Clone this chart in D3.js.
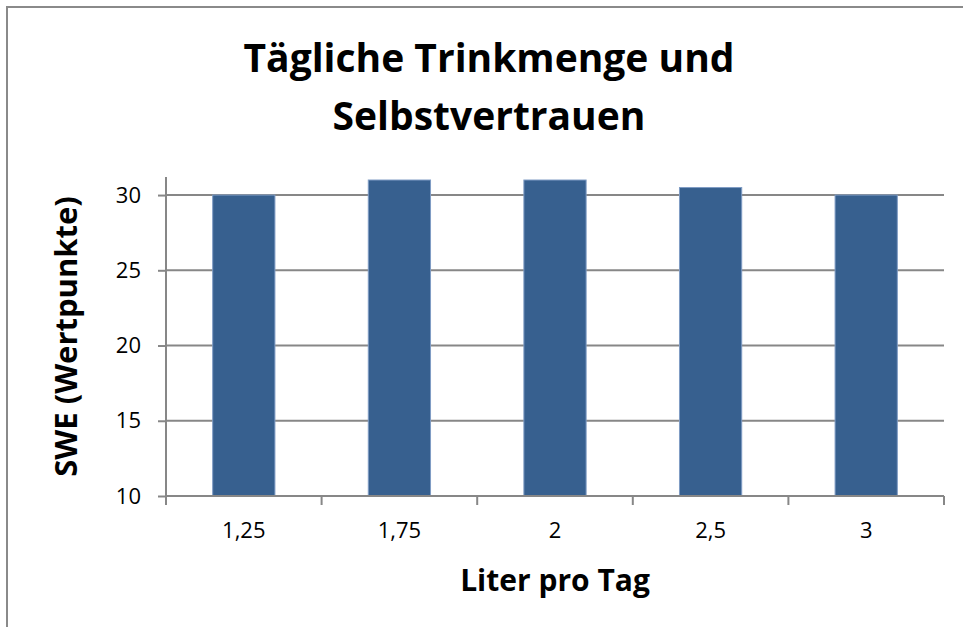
<meta charset="utf-8">
<script src="https://d3js.org/d3.v7.js"></script>
<style>
body { margin: 0; background-color: white; }
svg { font-family: 'Open Sans'; display: block; }
</style>
<html>
    <body>
        <div id="chart"></div>
        <script>
            // data
            var categories = ["1,25", "1,75", "2", "2,5", "3"];
            var swe = [30, 31, 31, 30.5, 30];
            var yTicks = [10, 15, 20, 25, 30];
            var titleLines = ["Tägliche Trinkmenge und", "Selbstvertrauen"];
            var xTitle = "Liter pro Tag";
            var yTitle = "SWE (Wertpunkte)";

            var margin = {top: 177, right: 19, bottom: 131, left: 166},
                width = 963 - margin.left - margin.right,
                height = 627 - margin.top - margin.bottom;

            var root = d3.select("#chart")
                .append("svg")
                    .attr("width", 963)
                    .attr("height", 627);

            // outer chart frame (cut off at right and bottom)
            root.append("rect")
                .attr("x", 7).attr("y", 7)
                .attr("width", 1000).attr("height", 700)
                .attr("fill", "white")
                .attr("stroke", "#8a8a8a")
                .attr("stroke-width", 2);

            var svg = root.append("g")
                .attr("transform", "translate(" + margin.left + "," + margin.top + ")");

            var x = d3.scaleBand()
                .domain(categories)
                .range([0, width])
                .paddingInner(0.6)
                .paddingOuter(0.3);

            var y = d3.scaleLinear()
                .domain([10, 31.2])
                .range([height, 0]);

            // gridlines
            svg.append("g")
                .selectAll("line")
                .data(yTicks.slice(1))
                .enter()
                .append("line")
                .attr("x1", 0)
                .attr("x2", width)
                .attr("y1", d => y(d))
                .attr("y2", d => y(d))
                .attr("stroke", "#878787")
                .attr("stroke-width", 2);

            // bars
            svg.append("g")
                .selectAll("rect")
                .data(swe)
                .enter()
                .append("rect")
                .attr("x", (d, i) => x(categories[i]))
                .attr("y", d => y(d))
                .attr("width", x.bandwidth())
                .attr("height", d => y(10) - y(d))
                .attr("fill", "#37608f")
                .attr("stroke", "#7f9cc4")
                .attr("stroke-width", 1);

            // Y axis
            var yAxis = svg.append("g")
                .call(d3.axisLeft(y).tickValues(yTicks).tickSize(8).tickPadding(17));
            yAxis.select(".domain").attr("stroke", "#878787").attr("stroke-width", 2)
                .attr("d", "M0," + y(31.2) + "V" + y(10));
            yAxis.selectAll(".tick line").attr("stroke", "#878787").attr("stroke-width", 2);
            yAxis.selectAll(".tick text")
                .attr("font-size", 22)
                .attr("font-family", "Open Sans")
                .attr("fill", "black");

            // X axis: ticks at category boundaries
            var step = x.step();
            var bounds = d3.range(categories.length + 1).map(i => i * step);
            var xg = svg.append("g")
                .attr("transform", "translate(0," + height + ")");
            xg.append("line")
                .attr("x1", 0).attr("x2", width)
                .attr("stroke", "#878787").attr("stroke-width", 2);
            xg.selectAll(".btick")
                .data(bounds)
                .enter()
                .append("line")
                .attr("class", "btick")
                .attr("x1", d => d).attr("x2", d => d)
                .attr("y1", 0).attr("y2", 9)
                .attr("stroke", "#878787").attr("stroke-width", 2);
            xg.selectAll(".xlabel")
                .data(categories)
                .enter()
                .append("text")
                .attr("class", "xlabel")
                .attr("x", d => x(d) + x.bandwidth() / 2)
                .attr("y", 42)
                .attr("text-anchor", "middle")
                .attr("font-size", 22)
                .text(d => d);

            // titles
            root.append("g")
                .selectAll("text")
                .data(titleLines)
                .enter()
                .append("text")
                .attr("x", 489)
                .attr("y", (d, i) => 72 + i * 58)
                .attr("text-anchor", "middle")
                .attr("font-size", 39)
                .attr("font-weight", "bold")
                .text(d => d);

            root.append("text")
                .attr("x", margin.left + width / 2)
                .attr("y", 591)
                .attr("text-anchor", "middle")
                .attr("font-size", 30)
                .attr("font-weight", "bold")
                .text(xTitle);

            root.append("text")
                .attr("transform", "translate(77," + (margin.top + height / 2) + ") rotate(-90)")
                .attr("text-anchor", "middle")
                .attr("font-size", 31)
                .attr("font-weight", "bold")
                .text(yTitle);
        </script>
    </body>
</html>
